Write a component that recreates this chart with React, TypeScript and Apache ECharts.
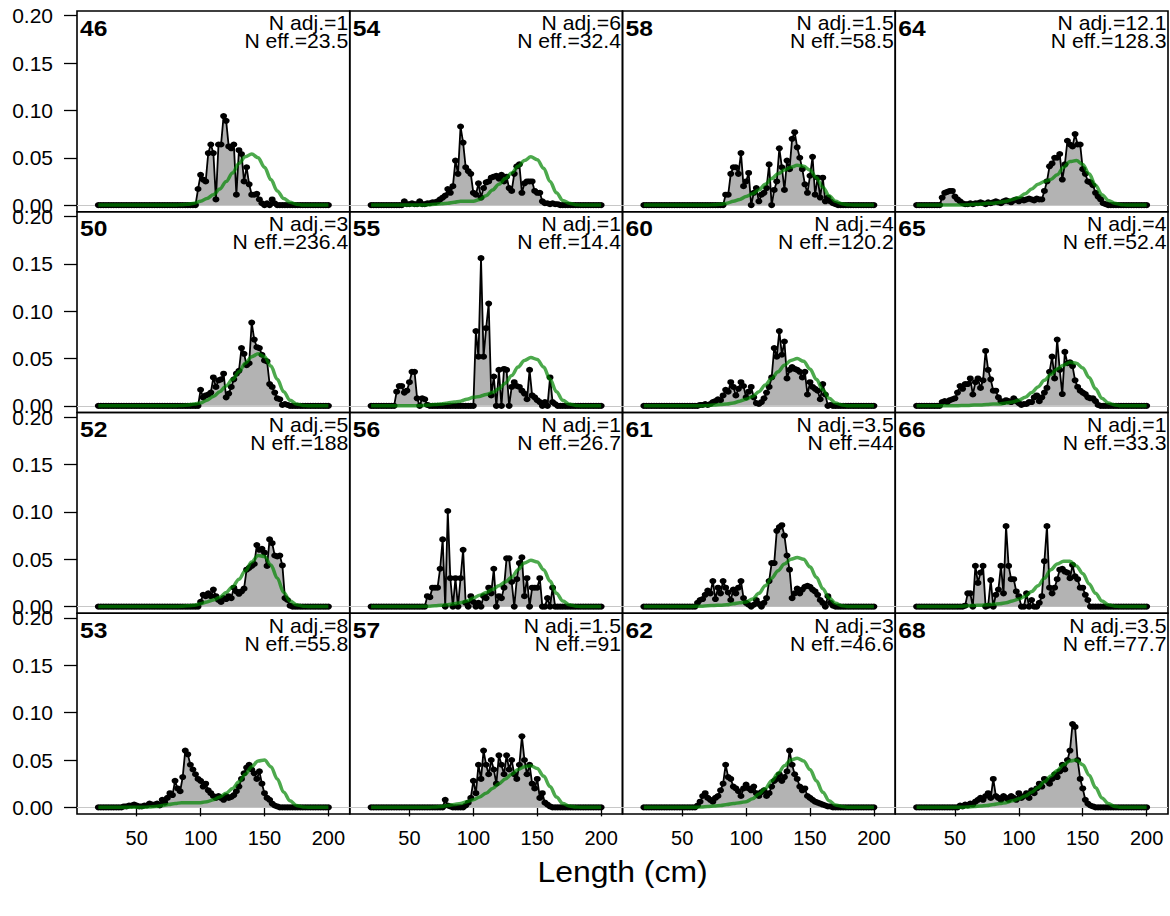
import { useEffect, useRef } from "react";
import * as echarts from "echarts";

// ---------- data ----------
const BIN_START = 20;
const BIN_END = 200;
const BIN_WIDTH = 2;
const EXP_STEP = 5;

const xTickValues = [50, 100, 150, 200];
const yTickValues = [0, 0.05, 0.1, 0.15, 0.2];

const panelIds = ["46", "54", "58", "64", "50", "55", "60", "65", "52", "56", "61", "66", "53", "57", "62", "68"];
const nAdjLabels = ["1", "6", "1.5", "12.1", "3", "1", "4", "4", "5", "1", "3.5", "1", "8", "1.5", "3", "3.5"];
const nEffLabels = ["23.5", "32.4", "58.5", "128.3", "236.4", "14.4", "120.2", "52.4", "188", "26.7", "44", "33.3", "55.8", "91", "46.6", "77.7"];

// observed proportions: first length bin with data, then one value per 2-cm bin (zeros elsewhere)
const obsFrom = [98, 46, 84, 40, 100, 40, 64, 40, 100, 64, 62, 58, 40, 78, 62, 54];

const obs46 = [0.017, 0.032, 0.027, 0.025, 0.055, 0.064, 0.055, 0.006, 0.064, 0.064, 0.094, 0.089, 0.062, 0.060, 0.064, 0.011, 0.058, 0.054, 0.025, 0.040, 0.022, 0.011, 0.011, 0.012, 0.006, 0.002, 0, 0.002, 0, 0.006, 0.002];
const obs54 = [0.004, 0.001, 0.001, 0.002, 0.001, 0.001, 0.004, 0.001, 0.001, 0.002, 0.002, 0.003, 0.003, 0.004, 0.006, 0.008, 0.010, 0.017, 0.013, 0.020, 0.047, 0.033, 0.083, 0.066, 0.040, 0.036, 0.033, 0.013, 0.011, 0.023, 0.008, 0.018, 0.024, 0.025, 0.029, 0.030, 0.031, 0.028, 0.032, 0.025, 0.030, 0.018, 0.015, 0.033, 0.041, 0.043, 0.013, 0.023, 0.025, 0.025, 0.025, 0.015, 0.013, 0.013, 0.004, 0.002, 0.002, 0.001, 0.002, 0.001, 0.001];
const obs58 = [0.011, 0.011, 0.033, 0.040, 0.040, 0.033, 0.055, 0.020, 0.025, 0.034, 0.0, 0.013, 0.018, 0.004, 0.011, 0.013, 0.018, 0.043, 0.0, 0.016, 0.025, 0.060, 0.040, 0.016, 0.047, 0.038, 0.070, 0.077, 0.061, 0.050, 0.038, 0.022, 0.013, 0.031, 0.051, 0.011, 0.029, 0.008, 0.029, 0.004, 0.008, 0.004, 0.002, 0.001];
const obs64 = [0.008, 0.013, 0.014, 0.015, 0.015, 0.009, 0.006, 0.004, 0.002, 0.001, 0.001, 0.002, 0.001, 0.002, 0.002, 0.003, 0.002, 0.001, 0.003, 0.002, 0.003, 0.004, 0.003, 0.002, 0.004, 0.005, 0.004, 0.003, 0.005, 0.006, 0.004, 0.006, 0.005, 0.006, 0.007, 0.006, 0.005, 0.007, 0.006, 0.006, 0.015, 0.025, 0.041, 0.044, 0.050, 0.050, 0.054, 0.027, 0.043, 0.068, 0.064, 0.062, 0.075, 0.064, 0.064, 0.038, 0.033, 0.025, 0.024, 0.021, 0.013, 0.009, 0.006, 0.002, 0.001];
const obs50 = [0.017, 0.009, 0.011, 0.012, 0.014, 0.030, 0.020, 0.027, 0.028, 0.034, 0.009, 0.013, 0.020, 0.028, 0.034, 0.037, 0.061, 0.055, 0.043, 0.045, 0.088, 0.070, 0.062, 0.061, 0.054, 0.048, 0.047, 0.023, 0.020, 0.014, 0.008, 0.007, 0.001, 0.002, 0.001];
const obs55 = [0.015, 0.021, 0.021, 0.014, 0.016, 0.025, 0.036, 0.036, 0.008, 0.0, 0.008, 0.007, 0.001, 0, 0, 0, 0, 0, 0, 0, 0, 0, 0, 0, 0, 0, 0, 0, 0, 0, 0, 0.079, 0.052, 0.156, 0.052, 0.082, 0.108, 0.011, 0.031, 0, 0.038, 0, 0.039, 0.038, 0, 0.020, 0.025, 0.021, 0.020, 0.016, 0.013, 0.007, 0.038, 0.011, 0.009, 0.006, 0.004, 0, 0.004, 0, 0.030, 0.004, 0.002, 0];
const obs60 = [0.001, 0.001, 0.002, 0.001, 0.002, 0.004, 0.005, 0.007, 0.006, 0.011, 0.017, 0.015, 0.025, 0.020, 0.011, 0.018, 0.025, 0.021, 0.009, 0.015, 0.020, 0.009, 0.003, 0.002, 0.004, 0.008, 0.014, 0.020, 0.030, 0.061, 0.052, 0.079, 0.054, 0.068, 0.029, 0.038, 0.041, 0.039, 0.038, 0.036, 0.030, 0.036, 0.012, 0.025, 0.020, 0.018, 0.016, 0.007, 0.023, 0.012, 0.000, 0.001];
const obs65 = [0.004, 0.005, 0.004, 0.006, 0.007, 0.008, 0.014, 0.021, 0.018, 0.023, 0.023, 0.029, 0.012, 0.025, 0.029, 0.019, 0.027, 0.058, 0.038, 0.028, 0.016, 0.016, 0.009, 0.005, 0.004, 0.006, 0.005, 0.004, 0.008, 0.005, 0.003, 0.001, 0.002, 0.002, 0.004, 0.004, 0.009, 0.011, 0.005, 0.009, 0.014, 0.019, 0.036, 0.052, 0.029, 0.070, 0.038, 0.0125, 0.057, 0.045, 0.046, 0.042, 0.027, 0.020, 0.016, 0.014, 0.0125, 0.009, 0.008, 0.008, 0.005, 0.001, 0];
const obs52 = [0.005, 0.0125, 0.011, 0.014, 0.011, 0.018, 0.011, 0.007, 0.005, 0.009, 0.008, 0.011, 0.009, 0.020, 0.016, 0.0135, 0.016, 0.019, 0.039, 0.041, 0.043, 0.045, 0.065, 0.060, 0.061, 0.057, 0.043, 0.071, 0.067, 0.054, 0.053, 0.054, 0.0435, 0.009, 0.007, 0.001];
const obs56 = [0.011, 0.010, 0.020, 0.020, 0.020, 0.040, 0.071, 0, 0.101, 0.030, 0, 0.030, 0, 0.030, 0.060, 0.004, 0, 0.011, 0.005, 0, 0.004, 0, 0.011, 0.009, 0.020, 0.014, 0.040, 0, 0.011, 0.009, 0.020, 0.051, 0.051, 0.026, 0, 0.029, 0.046, 0.052, 0.011, 0.030, 0, 0.020, 0.020, 0.020, 0.030, 0, 0, 0.009, 0, 0.020, 0];
const obs61 = [0.004, 0.007, 0.008, 0.0125, 0.017, 0.014, 0.027, 0.008, 0.020, 0.014, 0.027, 0.020, 0.015, 0.007, 0.018, 0.014, 0.020, 0.027, 0.009, 0.004, 0.002, 0, 0.002, 0.007, 0.003, 0, 0.004, 0.009, 0.027, 0.046, 0.046, 0.080, 0.084, 0.086, 0.075, 0.054, 0.039, 0.009, 0.014, 0.019, 0.014, 0.018, 0.021, 0.022, 0.021, 0.018, 0.016, 0.0125, 0.007, 0.004, 0, 0.011, 0.004, 0.001];
const obs66 = [0.001, 0.014, 0.014, 0, 0.043, 0.025, 0.036, 0.043, 0, 0.001, 0.028, 0, 0.0125, 0.018, 0.043, 0.014, 0.085, 0.043, 0.029, 0.029, 0.016, 0.011, 0, 0, 0.014, 0, 0.007, 0, 0, 0.004, 0.011, 0.048, 0.085, 0.020, 0.014, 0.020, 0.029, 0.039, 0.040, 0.037, 0.036, 0.030, 0.044, 0.032, 0.029, 0.020, 0.020, 0.0125, 0.007, 0];
const obs53 = [0.001, 0.001, 0.002, 0.002, 0.003, 0.002, 0.001, 0.001, 0.002, 0.002, 0.004, 0.003, 0.003, 0.004, 0.002, 0.008, 0.005, 0.010, 0.015, 0.013, 0.028, 0.020, 0.017, 0.032, 0.060, 0.056, 0.045, 0.040, 0.035, 0.030, 0.028, 0.022, 0.025, 0.018, 0.015, 0.012, 0.010, 0.012, 0.010, 0.008, 0.012, 0.010, 0.011, 0.013, 0.017, 0.022, 0.030, 0.036, 0.042, 0.045, 0.040, 0.036, 0.030, 0.038, 0.025, 0.015, 0.010, 0.008, 0.004, 0.002, 0.001];
const obs57 = [0.008, 0.002, 0.001, 0, 0, 0, 0, 0, 0.002, 0.005, 0.010, 0.028, 0.015, 0.045, 0.030, 0.060, 0.045, 0.035, 0.050, 0.040, 0.025, 0.055, 0.045, 0.035, 0.055, 0.040, 0.050, 0.035, 0.030, 0.045, 0.075, 0.050, 0.035, 0.045, 0.025, 0.020, 0.030, 0.010, 0.015, 0.005, 0.003, 0.001];
const obs62 = [0.002, 0.006, 0.012, 0.015, 0.010, 0.008, 0.006, 0.010, 0.012, 0.018, 0.025, 0.045, 0.032, 0.030, 0.022, 0.020, 0.017, 0.012, 0.020, 0.024, 0.020, 0.018, 0.022, 0.015, 0.012, 0.016, 0.018, 0.012, 0.015, 0.022, 0.028, 0.030, 0.035, 0.028, 0.032, 0.038, 0.060, 0.045, 0.035, 0.030, 0.022, 0.018, 0.020, 0.012, 0.010, 0.008, 0.006, 0.005, 0.004, 0.003, 0.002, 0.001, 0.001];
const obs68 = [0.002, 0.001, 0.003, 0.002, 0.004, 0.003, 0.006, 0.008, 0.010, 0.008, 0.012, 0.015, 0.010, 0.030, 0.012, 0.010, 0.008, 0.012, 0.010, 0.008, 0.012, 0.010, 0.008, 0.015, 0.010, 0.012, 0.015, 0.010, 0.018, 0.015, 0.020, 0.025, 0.022, 0.030, 0.028, 0.025, 0.030, 0.035, 0.032, 0.038, 0.045, 0.040, 0.050, 0.060, 0.088, 0.085, 0.050, 0.030, 0.020, 0.008, 0.004, 0.002, 0.001];

// expected proportions at 20, 25, ..., 200 cm
const exp46 = [0, 0, 0, 0, 0, 0, 0, 0, 0, 0, 0, 0, 0, 0.0005, 0.001, 0.002, 0.004, 0.007, 0.011, 0.017, 0.025, 0.034, 0.044, 0.051, 0.054, 0.050, 0.040, 0.027, 0.015, 0.007, 0.003, 0.001, 0, 0, 0, 0, 0];
const exp54 = [0, 0, 0, 0, 0, 0, 0, 0, 0, 0.0003, 0.0008, 0.0015, 0.002, 0.003, 0.004, 0.004, 0.004, 0.006, 0.010, 0.016, 0.022, 0.028, 0.034, 0.041, 0.047, 0.051, 0.048, 0.039, 0.025, 0.013, 0.005, 0.002, 0.0005, 0, 0, 0, 0];
const exp58 = [0, 0, 0, 0, 0, 0, 0, 0, 0, 0, 0, 0.0005, 0.001, 0.002, 0.004, 0.006, 0.009, 0.012, 0.016, 0.022, 0.028, 0.033, 0.037, 0.040, 0.042, 0.041, 0.037, 0.029, 0.019, 0.010, 0.004, 0.0015, 0.0005, 0, 0, 0, 0];
const exp64 = [0, 0, 0, 0, 0, 0, 0, 0, 0.0005, 0.001, 0.001, 0.002, 0.002, 0.003, 0.004, 0.006, 0.008, 0.012, 0.017, 0.022, 0.025, 0.027, 0.032, 0.040, 0.046, 0.047, 0.043, 0.033, 0.021, 0.011, 0.005, 0.002, 0.0005, 0, 0, 0, 0];
const exp50 = [0, 0, 0, 0, 0, 0, 0, 0, 0, 0, 0, 0, 0, 0.0005, 0.001, 0.002, 0.003, 0.006, 0.010, 0.015, 0.021, 0.028, 0.036, 0.045, 0.052, 0.055, 0.052, 0.042, 0.028, 0.015, 0.006, 0.002, 0.0005, 0, 0, 0, 0];
const exp55 = [0, 0, 0, 0, 0, 0, 0, 0, 0.0005, 0.001, 0.0015, 0.002, 0.003, 0.004, 0.005, 0.007, 0.009, 0.010, 0.012, 0.014, 0.018, 0.024, 0.032, 0.041, 0.048, 0.051, 0.049, 0.041, 0.028, 0.015, 0.006, 0.002, 0.0005, 0, 0, 0, 0];
const exp60 = [0, 0, 0, 0, 0, 0, 0, 0, 0, 0, 0.0005, 0.001, 0.0015, 0.002, 0.003, 0.005, 0.007, 0.010, 0.015, 0.022, 0.029, 0.036, 0.043, 0.048, 0.050, 0.047, 0.039, 0.028, 0.017, 0.008, 0.003, 0.001, 0, 0, 0, 0, 0];
const exp65 = [0, 0, 0, 0, 0, 0, 0, 0.0003, 0.0005, 0.001, 0.001, 0.0015, 0.002, 0.002, 0.003, 0.004, 0.006, 0.009, 0.014, 0.020, 0.027, 0.033, 0.039, 0.043, 0.046, 0.045, 0.040, 0.030, 0.018, 0.008, 0.003, 0.001, 0, 0, 0, 0, 0];
const exp52 = [0, 0, 0, 0, 0, 0, 0, 0, 0, 0, 0, 0, 0, 0.0003, 0.0008, 0.0015, 0.003, 0.005, 0.007, 0.010, 0.015, 0.021, 0.029, 0.038, 0.047, 0.054, 0.053, 0.044, 0.030, 0.015, 0.006, 0.002, 0.0005, 0, 0, 0, 0];
const exp56 = [0, 0, 0, 0, 0, 0, 0, 0, 0.0003, 0.0005, 0.001, 0.0015, 0.002, 0.003, 0.004, 0.006, 0.009, 0.012, 0.015, 0.018, 0.022, 0.026, 0.031, 0.039, 0.046, 0.049, 0.047, 0.039, 0.027, 0.014, 0.006, 0.002, 0.0005, 0, 0, 0, 0];
const exp61 = [0, 0, 0, 0, 0, 0, 0, 0, 0.0003, 0.0005, 0.001, 0.0012, 0.0015, 0.002, 0.003, 0.004, 0.005, 0.008, 0.014, 0.022, 0.030, 0.038, 0.045, 0.050, 0.052, 0.050, 0.042, 0.031, 0.019, 0.009, 0.0035, 0.001, 0, 0, 0, 0, 0];
const exp66 = [0, 0, 0, 0, 0, 0, 0, 0.0005, 0.001, 0.0012, 0.0015, 0.002, 0.0025, 0.003, 0.004, 0.006, 0.008, 0.011, 0.016, 0.022, 0.030, 0.039, 0.045, 0.048, 0.048, 0.043, 0.035, 0.024, 0.014, 0.006, 0.002, 0.0005, 0, 0, 0, 0, 0];
const exp53 = [0, 0, 0, 0, 0, 0, 0, 0, 0.0005, 0.001, 0.002, 0.003, 0.004, 0.005, 0.005, 0.005, 0.005, 0.006, 0.008, 0.011, 0.015, 0.020, 0.027, 0.035, 0.043, 0.049, 0.050, 0.043, 0.030, 0.016, 0.007, 0.002, 0.0005, 0, 0, 0, 0];
const exp57 = [0, 0, 0, 0, 0, 0, 0, 0, 0, 0, 0.0005, 0.001, 0.002, 0.003, 0.004, 0.006, 0.008, 0.011, 0.015, 0.020, 0.025, 0.030, 0.035, 0.040, 0.043, 0.044, 0.041, 0.033, 0.022, 0.011, 0.004, 0.0015, 0.0005, 0, 0, 0, 0];
const exp62 = [0, 0, 0, 0, 0, 0, 0, 0, 0, 0.0005, 0.001, 0.0015, 0.002, 0.003, 0.004, 0.005, 0.006, 0.009, 0.014, 0.020, 0.028, 0.036, 0.044, 0.050, 0.052, 0.049, 0.040, 0.028, 0.016, 0.007, 0.0025, 0.001, 0, 0, 0, 0, 0];
const exp68 = [0, 0, 0, 0, 0, 0, 0, 0, 0.0005, 0.001, 0.0015, 0.002, 0.003, 0.004, 0.005, 0.007, 0.009, 0.012, 0.016, 0.021, 0.027, 0.033, 0.039, 0.045, 0.049, 0.050, 0.045, 0.034, 0.021, 0.010, 0.004, 0.001, 0, 0, 0, 0, 0];

const observed = [obs46, obs54, obs58, obs64, obs50, obs55, obs60, obs65, obs52, obs56, obs61, obs66, obs53, obs57, obs62, obs68];
const expected = [exp46, exp54, exp58, exp64, exp50, exp55, exp60, exp65, exp52, exp56, exp61, exp66, exp53, exp57, exp62, exp68];

// ---------- layout / style ----------
const FONT = "'Liberation Sans', Arial, Helvetica, sans-serif";
const LEFT = 77;
const TOP = 11;
const PW = 272.75;
const PH = 200.75;
const NCOL = 4;
const NROW = 4;
const X_MIN = 3.3;
const X_MAX = 216.7;
const Y_MIN = -0.007;
const Y_MAX = 0.205;
const TEXT_STRETCH = 1.06;
const ID_STRETCH = 1.12;

function buildOption() {
  const bins: number[] = [];
  for (let L = BIN_START; L <= BIN_END; L += BIN_WIDTH) bins.push(L);
  const expX: number[] = [];
  for (let L = BIN_START; L <= BIN_END; L += EXP_STEP) expX.push(L);

  const grids: any[] = [];
  const xAxes: any[] = [];
  const yAxes: any[] = [];
  const series: any[] = [];
  const graphics: any[] = [];

  for (let k = 0; k < panelIds.length; k++) {
    const r = Math.floor(k / NCOL);
    const c = k % NCOL;
    const left = LEFT + c * PW;
    const top = TOP + r * PH;
    grids.push({
      left,
      top,
      width: PW,
      height: PH,
      show: true,
      borderColor: "#000",
      borderWidth: 1.6,
      backgroundColor: "transparent",
      containLabel: false,
    });
    const bottom = r === NROW - 1;
    const leftCol = c === 0;
    xAxes.push({
      type: "value",
      gridIndex: k,
      min: X_MIN,
      max: X_MAX,
      position: "bottom",
      splitLine: { show: false },
      axisLine: { show: false },
      axisTick: {
        show: bottom,
        customValues: xTickValues,
        length: 9,
        lineStyle: { color: "#000", width: 1.3 },
      },
      axisLabel: {
        show: bottom,
        customValues: xTickValues,
        color: "#000",
        fontSize: 20,
        fontFamily: FONT,
        margin: 14,
      },
    });
    yAxes.push({
      type: "value",
      gridIndex: k,
      min: Y_MIN,
      max: Y_MAX,
      splitLine: { show: false },
      axisLine: { show: false },
      axisTick: {
        show: leftCol,
        customValues: yTickValues,
        length: 13,
        lineStyle: { color: "#000", width: 1.3 },
      },
      axisLabel: {
        show: leftCol,
        customValues: yTickValues,
        color: "#000",
        fontSize: 21,
        fontFamily: FONT,
        margin: 24,
        formatter: (v: number) => v.toFixed(2),
      },
    });

    const from = obsFrom[k];
    const obs = observed[k];
    const obsData = bins.map((L) => {
      const idx = (L - from) / BIN_WIDTH;
      const v = idx >= 0 && idx < obs.length ? obs[idx] : 0;
      return [L, v];
    });
    series.push({
      type: "line",
      xAxisIndex: k,
      yAxisIndex: k,
      data: obsData,
      symbol: "circle",
      symbolSize: [7, 6],
      showSymbol: true,
      lineStyle: { color: "#000", width: 1.8 },
      itemStyle: { color: "#000" },
      areaStyle: { color: "#b3b3b3", opacity: 1, origin: "auto" },
      z: 2,
      silent: true,
      markLine: {
        silent: true,
        symbol: "none",
        label: { show: false },
        lineStyle: { color: "#c8c8c8", width: 1.2, type: "solid" },
        data: [{ yAxis: 0 }],
        z: 1,
      },
    });
    const exp = expected[k];
    series.push({
      type: "line",
      xAxisIndex: k,
      yAxisIndex: k,
      data: expX.map((L, i) => [L, exp[i]]),
      showSymbol: false,
      symbol: "none",
      smooth: 0.35,
      smoothMonotone: "x",
      lineStyle: { color: "rgba(0,133,0,0.7)", width: 3.5 },
      z: 3,
      silent: true,
    });

    graphics.push({
      type: "text",
      x: left + 3,
      y: top + 17,
      scaleX: ID_STRETCH,
      silent: true,
      z: 10,
      style: {
        text: panelIds[k],
        fontSize: 22,
        fontWeight: "bold",
        fontFamily: FONT,
        fill: "#000",
        textAlign: "left",
        textVerticalAlign: "middle",
      },
    });
    graphics.push({
      type: "text",
      x: left + PW - 1.5,
      y: top + 12,
      scaleX: TEXT_STRETCH,
      silent: true,
      z: 10,
      style: {
        text: "N adj.=" + nAdjLabels[k],
        fontSize: 20,
        fontFamily: FONT,
        fill: "#000",
        textAlign: "right",
        textVerticalAlign: "middle",
      },
    });
    graphics.push({
      type: "text",
      x: left + PW - 1.5,
      y: top + 30,
      scaleX: TEXT_STRETCH,
      silent: true,
      z: 10,
      style: {
        text: "N eff.=" + nEffLabels[k],
        fontSize: 20,
        fontFamily: FONT,
        fill: "#000",
        textAlign: "right",
        textVerticalAlign: "middle",
      },
    });
  }

  graphics.push({
    type: "text",
    x: LEFT + (NCOL * PW) / 2,
    y: 872,
    scaleX: 1.1,
    silent: true,
    style: {
      text: "Length (cm)",
      fontSize: 29,
      fontFamily: FONT,
      fill: "#000",
      textAlign: "center",
      textVerticalAlign: "middle",
    },
  });

  return {
    animation: false,
    backgroundColor: "#ffffff",
    grid: grids,
    xAxis: xAxes,
    yAxis: yAxes,
    series,
    graphic: graphics,
  };
}

export default function App() {
  const ref = useRef<HTMLDivElement>(null);
  useEffect(() => {
    document.body.style.margin = "0";
    if (!ref.current) return;
    const chart = echarts.init(ref.current, undefined, { renderer: "svg" });
    chart.setOption(buildOption() as any);
    return () => {
      chart.dispose();
    };
  }, []);
  return <div ref={ref} style={{ width: 1170, height: 916, background: "#fff" }} />;
}
